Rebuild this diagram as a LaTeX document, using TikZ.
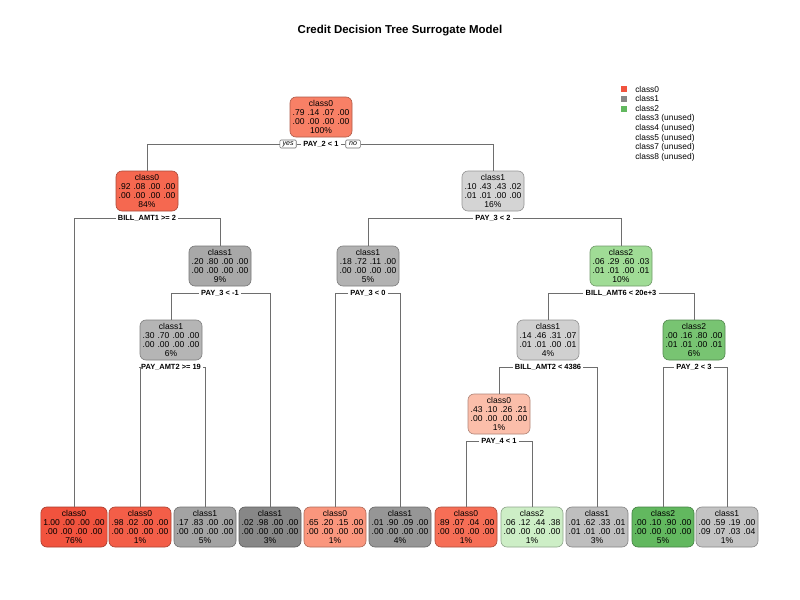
\documentclass[tikz,border=0pt]{standalone}
\usepackage{fontspec}
\setmainfont{Liberation Sans}
\definecolor{rA}{RGB}{241,83,62}
\definecolor{rB}{RGB}{243,94,72}
\definecolor{rC}{RGB}{245,104,80}
\definecolor{rD}{RGB}{246,110,86}
\definecolor{rE}{RGB}{248,128,102}
\definecolor{rF}{RGB}{250,150,125}
\definecolor{rG}{RGB}{251,190,170}
\definecolor{gA}{RGB}{135,135,135}
\definecolor{gB}{RGB}{150,150,150}
\definecolor{gC}{RGB}{163,163,163}
\definecolor{gD}{RGB}{168,168,168}
\definecolor{gE}{RGB}{178,178,178}
\definecolor{gF}{RGB}{181,181,181}
\definecolor{gG}{RGB}{190,190,190}
\definecolor{gH}{RGB}{195,195,195}
\definecolor{gI}{RGB}{208,208,208}
\definecolor{gJ}{RGB}{212,212,212}
\definecolor{GA}{RGB}{98,184,95}
\definecolor{GB}{RGB}{120,196,114}
\definecolor{GC}{RGB}{160,220,150}
\definecolor{GD}{RGB}{205,238,198}
\definecolor{edgecol}{RGB}{110,110,110}
\newcommand{\ntxt}[4]{#1\\#2\\#3\\#4\%}
\newcommand{\boxfont}{\fontsize{6.4}{6.75}\selectfont\spaceskip=2.3pt plus 0pt minus 0pt\relax}
\tikzset{
  box/.style={rounded corners=4.5pt, minimum width=46.5pt, minimum height=30pt,
    inner xsep=1.8pt, inner ysep=1pt, align=center,
    font=\boxfont, draw=#1!70!black, fill=#1, line width=0.5pt},
  splitlbl/.style={font=\bfseries\fontsize{5.6}{6}\selectfont, inner xsep=1.5pt, inner ysep=1pt},
  yn/.style={draw=edgecol, rounded corners=0.8pt, font=\itshape\fontsize{5.3}{5.5}\selectfont,
    inner xsep=2pt, inner ysep=0.6pt, minimum width=11pt, minimum height=6pt, line width=0.4pt},
  edge/.style={draw=edgecol, line width=0.5pt},
  lsq/.style={minimum size=4.5pt, inner sep=0pt, draw=none},
  ltxt/.style={anchor=west, font=\fontsize{6.3}{7}\selectfont, inner sep=0pt}
}
\begin{document}
\begin{tikzpicture}[x=0.75pt,y=-0.75pt]
\useasboundingbox (0,0) rectangle (800,600);
\fill[white] (0,0) rectangle (800,600);
\node[font=\bfseries\fontsize{8.6}{10}\selectfont] (title) at (400,31) {Credit Decision Tree Surrogate Model};

% internal nodes
\node[box=rE] (n1) at (321,117) {\ntxt{class0}{.79 .14 .07 .00}{.00 .00 .00 .00}{100}};
\node[box=rC] (n2) at (147,191) {\ntxt{class0}{.92 .08 .00 .00}{.00 .00 .00 .00}{84}};
\node[box=gJ] (n3) at (493,191) {\ntxt{class1}{.10 .43 .43 .02}{.01 .01 .00 .00}{16}};
\node[box=gD] (n4) at (220,266) {\ntxt{class1}{.20 .80 .00 .00}{.00 .00 .00 .00}{9}};
\node[box=gE] (n6) at (368,266) {\ntxt{class1}{.18 .72 .11 .00}{.00 .00 .00 .00}{5}};
\node[box=GC] (n7) at (621,266) {\ntxt{class2}{.06 .29 .60 .03}{.01 .01 .00 .01}{10}};
\node[box=gF] (n8) at (171,340) {\ntxt{class1}{.30 .70 .00 .00}{.00 .00 .00 .00}{6}};
\node[box=gI] (n14) at (548,340) {\ntxt{class1}{.14 .46 .31 .07}{.01 .01 .00 .01}{4}};
\node[box=GB] (n15) at (694,340) {\ntxt{class2}{.00 .16 .80 .00}{.01 .01 .00 .01}{6}};
\node[box=rG] (n28) at (499,414) {\ntxt{class0}{.43 .10 .26 .21}{.00 .00 .00 .00}{1}};

% leaves
\node[box=rA] (l1) at (74,527) {\ntxt{class0}{1.00 .00 .00 .00}{.00 .00 .00 .00}{76}};
\node[box=rB] (l2) at (140,527) {\ntxt{class0}{.98 .02 .00 .00}{.00 .00 .00 .00}{1}};
\node[box=gC] (l3) at (205,527) {\ntxt{class1}{.17 .83 .00 .00}{.00 .00 .00 .00}{5}};
\node[box=gA] (l4) at (270,527) {\ntxt{class1}{.02 .98 .00 .00}{.00 .00 .00 .00}{3}};
\node[box=rF] (l5) at (335,527) {\ntxt{class0}{.65 .20 .15 .00}{.00 .00 .00 .00}{1}};
\node[box=gB] (l6) at (400,527) {\ntxt{class1}{.01 .90 .09 .00}{.00 .00 .00 .00}{4}};
\node[box=rD] (l7) at (466,527) {\ntxt{class0}{.89 .07 .04 .00}{.00 .00 .00 .00}{1}};
\node[box=GD] (l8) at (532,527) {\ntxt{class2}{.06 .12 .44 .38}{.00 .00 .00 .00}{1}};
\node[box=gG] (l9) at (597,527) {\ntxt{class1}{.01 .62 .33 .01}{.01 .01 .00 .01}{3}};
\node[box=GA] (l10) at (663,527) {\ntxt{class2}{.00 .10 .90 .00}{.00 .00 .00 .00}{5}};
\node[box=gH] (l11) at (727,527) {\ntxt{class1}{.00 .59 .19 .00}{.09 .07 .03 .04}{1}};

% split labels
\node[splitlbl] (s1) at (321,144) {PAY\_2 < 1};
\node[yn, anchor=east] (yes) at ([xshift=-3.5pt]s1.west) {yes};
\node[yn, anchor=west] (no) at ([xshift=3.5pt]s1.east) {no};
\node[splitlbl] (s2) at (147,218) {BILL\_AMT1 >= 2};
\node[splitlbl] (s3) at (493,218) {PAY\_3 < 2};
\node[splitlbl] (s4) at (220,293) {PAY\_3 < -1};
\node[splitlbl] (s6) at (368,293) {PAY\_3 < 0};
\node[splitlbl] (s7) at (621,293) {BILL\_AMT6 < 20e+3};
\node[splitlbl] (s8) at (171,367) {PAY\_AMT2 >= 19};
\node[splitlbl] (s14) at (548,367) {BILL\_AMT2 < 4386};
\node[splitlbl] (s15) at (694,367) {PAY\_2 < 3};
\node[splitlbl] (s28) at (499,441) {PAY\_4 < 1};

% edges
\draw[edge] (n2.north) |- (yes.west);
\draw[edge] (yes.east) -- (s1.west);
\draw[edge] (s1.east) -- (no.west);
\draw[edge] (no.east) -| (n3.north);
\draw[edge] (s2.west) -| (l1.north);
\draw[edge] (s2.east) -| (n4.north);
\draw[edge] (s4.west) -| (n8.north);
\draw[edge] (s4.east) -| (l4.north);
\draw[edge] (s8.west) -| (l2.north);
\draw[edge] (s8.east) -| (l3.north);
\draw[edge] (s3.west) -| (n6.north);
\draw[edge] (s3.east) -| (n7.north);
\draw[edge] (s6.west) -| (l5.north);
\draw[edge] (s6.east) -| (l6.north);
\draw[edge] (s7.west) -| (n14.north);
\draw[edge] (s7.east) -| (n15.north);
\draw[edge] (s14.west) -| (n28.north);
\draw[edge] (s14.east) -| (l9.north);
\draw[edge] (s28.west) -| (l7.north);
\draw[edge] (s28.east) -| (l8.north);
\draw[edge] (s15.west) -| (l10.north);
\draw[edge] (s15.east) -| (l11.north);

% legend
\node[lsq, fill=rA] (k0) at (624,89) {};
\node[lsq, fill=gA] (k1) at (624,98.8) {};
\node[lsq, fill=GA] (k2) at (624,108.6) {};
\node[ltxt] (t0) at (635,89) {class0};
\node[ltxt] (t1) at (635,98.8) {class1};
\node[ltxt] (t2) at (635,108.6) {class2};
\node[ltxt] (t3) at (635,118.4) {class3 (unused)};
\node[ltxt] (t4) at (635,128.2) {class4 (unused)};
\node[ltxt] (t5) at (635,138) {class5 (unused)};
\node[ltxt] (t7) at (635,147.8) {class7 (unused)};
\node[ltxt] (t8) at (635,157.6) {class8 (unused)};
\end{tikzpicture}
\end{document}
